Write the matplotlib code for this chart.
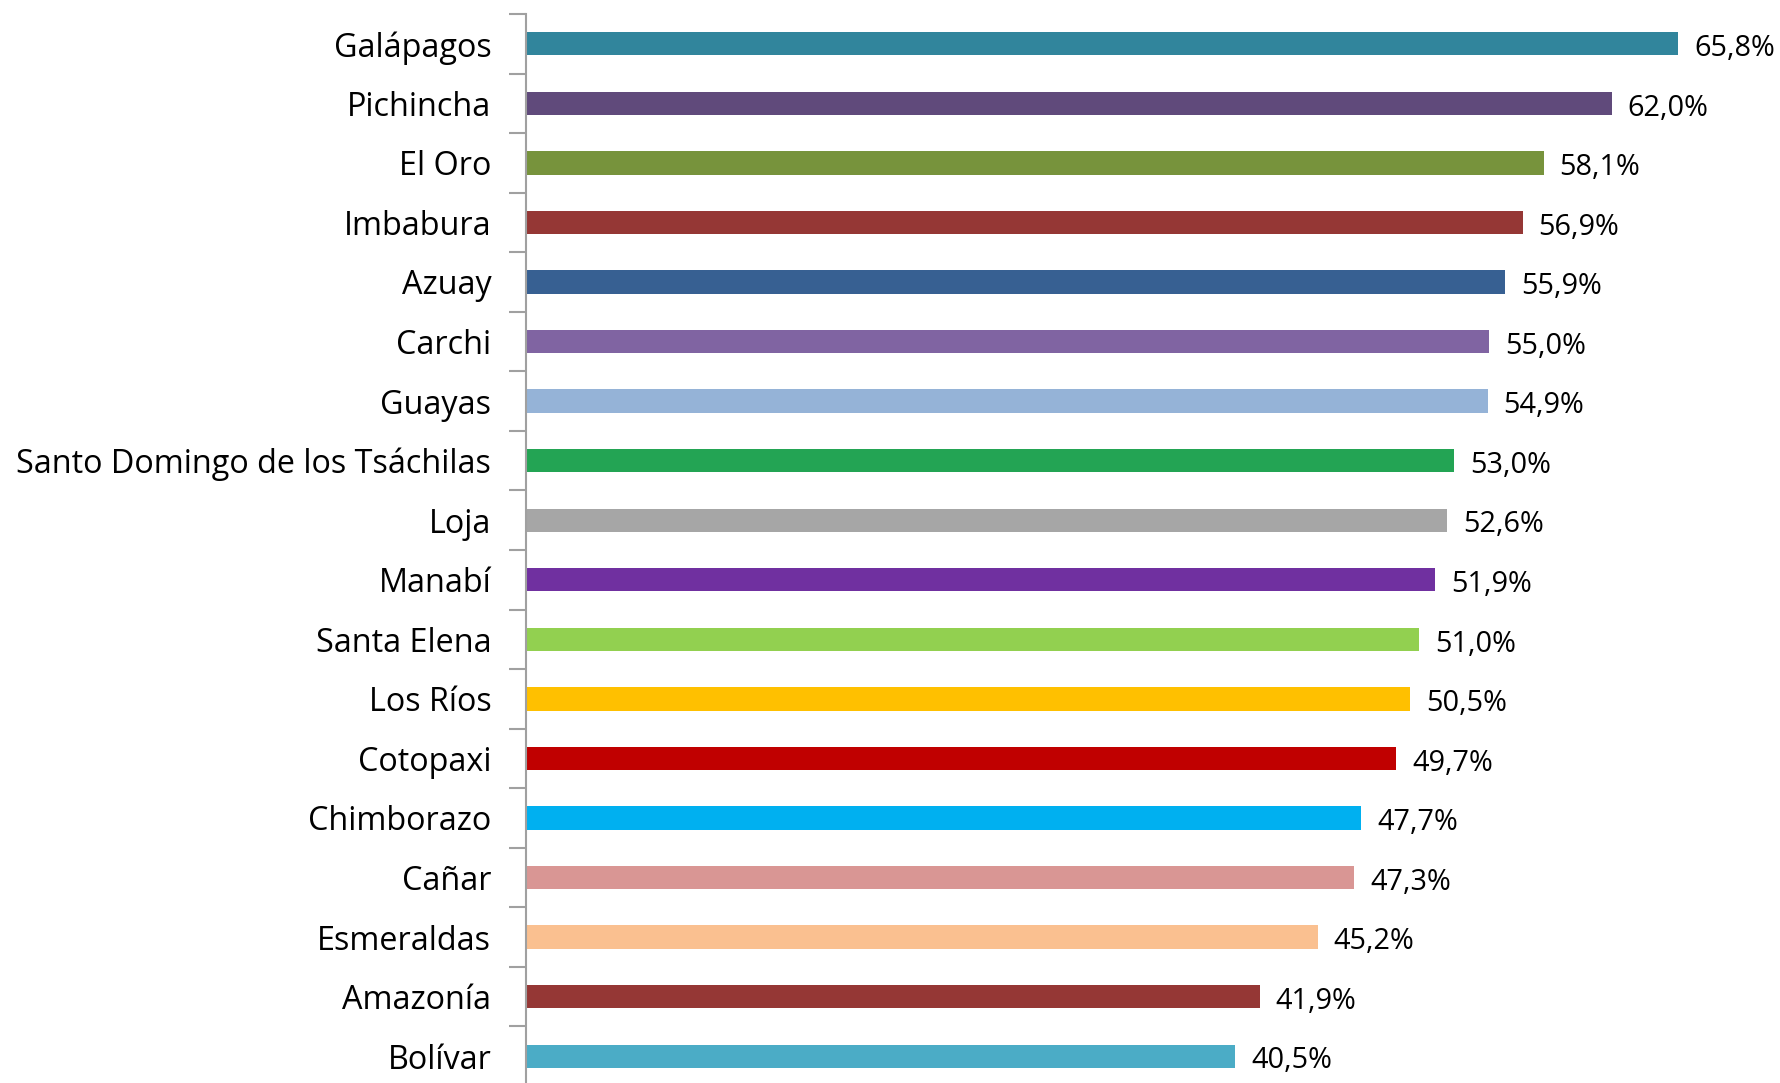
import matplotlib
matplotlib.use("Agg")
import matplotlib.pyplot as plt

provinces = ["Galápagos", "Pichincha", "El Oro", "Imbabura", "Azuay", "Carchi",
             "Guayas", "Santo Domingo de los Tsáchilas", "Loja", "Manabí",
             "Santa Elena", "Los Ríos", "Cotopaxi", "Chimborazo", "Cañar",
             "Esmeraldas", "Amazonía", "Bolívar"]
values = [65.8, 62.0, 58.1, 56.9, 55.9, 55.0, 54.9, 53.0, 52.6, 51.9,
          51.0, 50.5, 49.7, 47.7, 47.3, 45.2, 41.9, 40.5]
colors = ["#31859C", "#604A7B", "#77933C", "#953735", "#376092", "#8064A2",
          "#95B3D7", "#23A454", "#A6A6A6", "#7030A0", "#92D050", "#FFC000",
          "#C00000", "#00B0F0", "#D99694", "#FAC090", "#953735", "#4BACC6"]

plt.rcParams["font.family"] = ["Open Sans", "DejaVu Sans"]

fig = plt.figure(figsize=(17.8, 10.83), dpi=100)
ax = fig.add_axes([526 / 1780, -3 / 1083, (1752 - 526) / 1780, (1083 - 14 + 3) / 1083])

pos = list(range(len(provinces)))
ax.barh(pos, values, height=0.39, color=colors)
for y, v in zip(pos, values):
    ax.text(v + 0.9, y + 0.08, f"{v:.1f}%".replace(".", ","), va="center", ha="left",
            fontsize=20.8, color="black")

ax.set_xlim(0, 70)
ax.set_ylim(len(provinces) - 0.5, -0.5)
ax.set_yticks(pos)
ax.set_yticklabels(provinces, fontsize=23.3, va="center_baseline")
ax.set_yticks([p - 0.5 for p in pos] + [len(pos) - 0.5], minor=True)
ax.tick_params(axis="y", which="major", length=0, pad=25)
ax.tick_params(axis="y", which="minor", length=12, width=1.5, color="#A0A0A0")
ax.set_xticks([])
for s in ["top", "right", "bottom"]:
    ax.spines[s].set_visible(False)
ax.spines["left"].set_color("#A0A0A0")
ax.spines["left"].set_linewidth(1.5)

fig.savefig("out.png", dpi=100)
